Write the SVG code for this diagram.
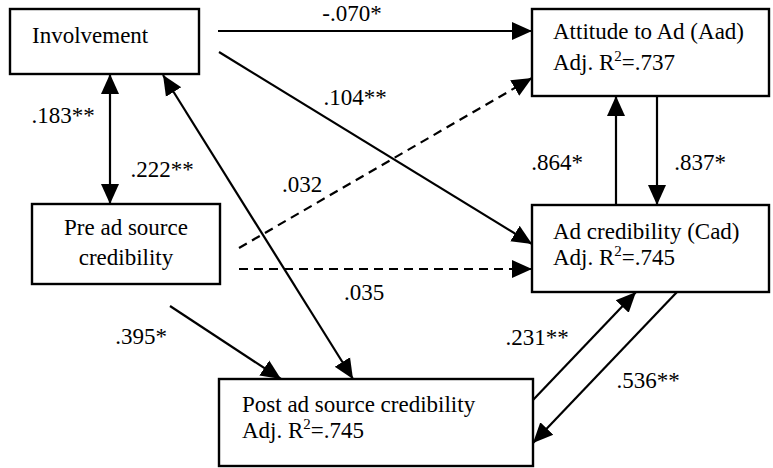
<svg xmlns="http://www.w3.org/2000/svg" width="773" height="468" viewBox="0 0 773 468">
<defs>
<marker id="ah" markerUnits="userSpaceOnUse" markerWidth="22" markerHeight="22" refX="20" refY="10" orient="auto-start-reverse" viewBox="0 0 22 20">
<path d="M0,1 L20,10 L0,19 z" fill="#000"/>
</marker>
<style>
.box{fill:#fff;stroke:#000;stroke-width:2.4}
.t{font-family:"Liberation Serif","Times New Roman",serif;font-size:23px;fill:#000}
.c{stroke:#000;stroke-width:2.2;fill:none}
.d{stroke-dasharray:9,6}
.sup{font-size:15px}
</style>
</defs>
<g id="connectors">
<line class="c" x1="218" y1="31" x2="532" y2="31" marker-end="url(#ah)"/>
<line class="c" x1="219" y1="52" x2="532" y2="244" marker-end="url(#ah)"/>
<line class="c" x1="110" y1="74" x2="110" y2="204" marker-start="url(#ah)" marker-end="url(#ah)"/>
<line class="c" x1="163" y1="75" x2="353" y2="379" marker-start="url(#ah)" marker-end="url(#ah)"/>
<line class="c d" x1="239" y1="248" x2="532" y2="78" marker-end="url(#ah)"/>
<line class="c d" x1="239" y1="269" x2="532" y2="269" marker-end="url(#ah)"/>
<line class="c" x1="170" y1="306" x2="281" y2="379" marker-end="url(#ah)"/>
<line class="c" x1="616" y1="205" x2="616" y2="96" marker-end="url(#ah)"/>
<line class="c" x1="657" y1="96" x2="657" y2="205" marker-end="url(#ah)"/>
<line class="c" x1="533" y1="400" x2="636" y2="292" marker-end="url(#ah)"/>
<line class="c" x1="677" y1="292" x2="533" y2="443" marker-end="url(#ah)"/>
<text class="t" x="352" y="21" text-anchor="middle">-.070*</text>
<text class="t" x="355" y="105" text-anchor="middle">.104**</text>
<text class="t" x="63" y="123" text-anchor="middle">.183**</text>
<text class="t" x="162" y="177" text-anchor="middle">.222**</text>
<text class="t" x="302" y="192" text-anchor="middle">.032</text>
<text class="t" x="364" y="300" text-anchor="middle">.035</text>
<text class="t" x="141" y="344" text-anchor="middle">.395*</text>
<text class="t" x="557" y="170" text-anchor="middle">.864*</text>
<text class="t" x="700" y="170" text-anchor="middle">.837*</text>
<text class="t" x="537" y="345" text-anchor="middle">.231**</text>
<text class="t" x="648" y="388" text-anchor="middle">.536**</text>
</g>
<g id="involvement">
<rect class="box" x="10" y="9" width="189" height="65"/>
<text class="t" x="32" y="43">Involvement</text>
</g>
<g id="attitude">
<rect class="box" x="532" y="9" width="237" height="87"/>
<text class="t" x="553" y="39">Attitude to Ad (Aad)</text>
<text class="t" x="553" y="70">Adj. R<tspan class="sup" dy="-9">2</tspan><tspan dy="9">=.737</tspan></text>
</g>
<g id="pre">
<rect class="box" x="32" y="204" width="188" height="80"/>
<text class="t" x="126" y="235" text-anchor="middle">Pre ad source</text>
<text class="t" x="126" y="265" text-anchor="middle">credibility</text>
</g>
<g id="adcred">
<rect class="box" x="532" y="205" width="237" height="87"/>
<text class="t" x="553" y="239">Ad credibility (Cad)</text>
<text class="t" x="553" y="265">Adj. R<tspan class="sup" dy="-9">2</tspan><tspan dy="9">=.745</tspan></text>
</g>
<g id="post">
<rect class="box" x="219" y="379" width="314" height="87"/>
<text class="t" x="242" y="412">Post ad source credibility</text>
<text class="t" x="242" y="438">Adj. R<tspan class="sup" dy="-9">2</tspan><tspan dy="9">=.745</tspan></text>
</g>
</svg>
